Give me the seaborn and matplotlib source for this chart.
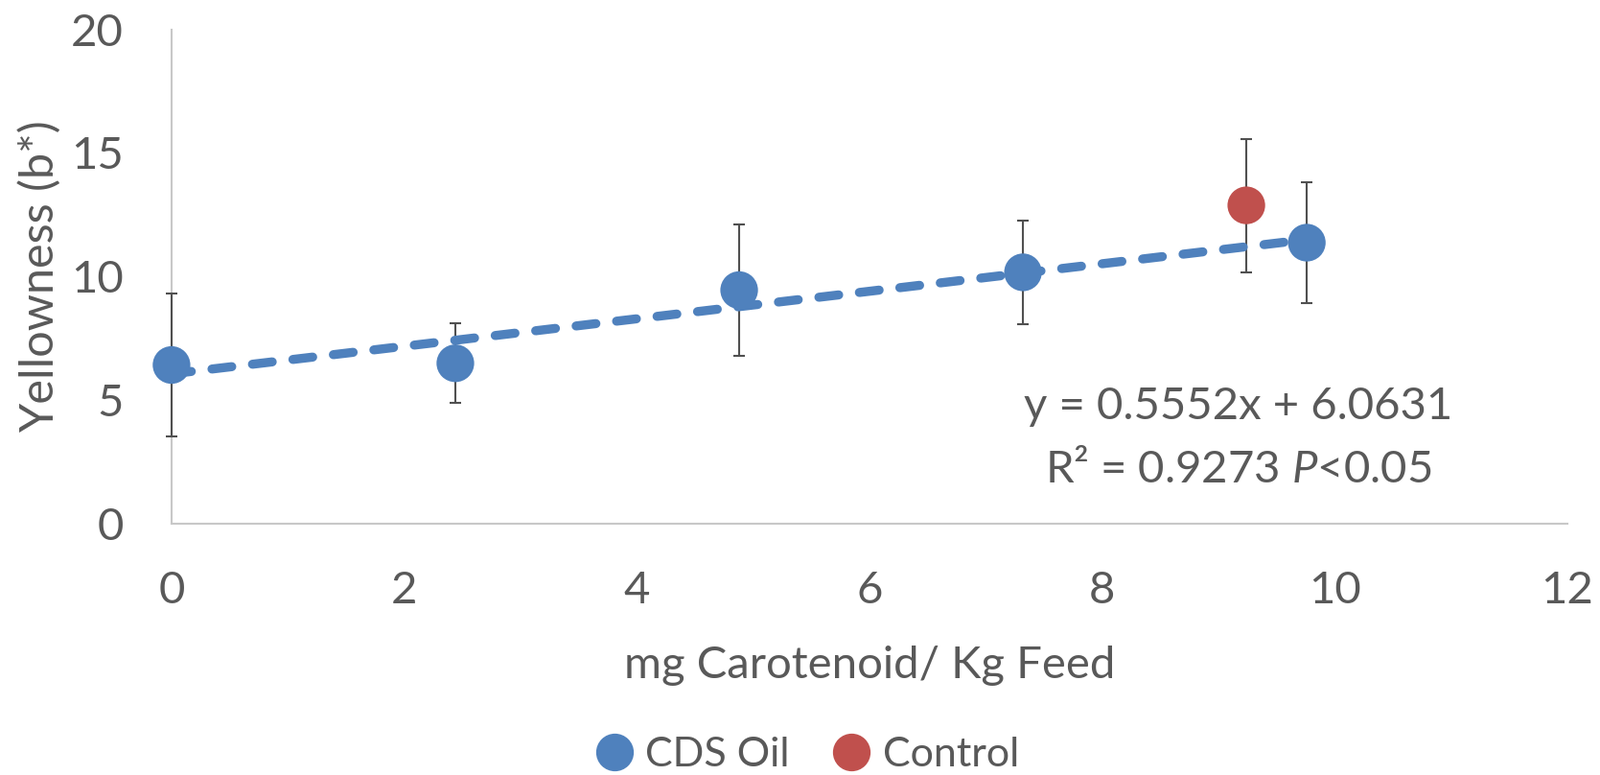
import matplotlib
matplotlib.use("Agg")
import matplotlib.pyplot as plt
import seaborn as sns
import pandas as pd
import numpy as np

# Data
cds_x = [0.0, 2.44, 4.88, 7.32, 9.76]
cds_y = [6.42, 6.49, 9.45, 10.17, 11.37]
cds_err = [2.90, 1.61, 2.65, 2.09, 2.45]
ctrl_x = [9.24]
ctrl_y = [12.88]
ctrl_err = [2.70]
x_ticks = [0, 2, 4, 6, 8, 10, 12]
y_ticks = [0, 5, 10, 15, 20]
eq_line1 = "y = 0.5552x + 6.0631"
eq_line2 = r"R² = 0.9273 $\it{P}$<0.05"

BLUE = "#4F81BD"
RED = "#C0504D"
TXT = "#595959"

sns.set_theme(style="white")
plt.rcParams['font.family'] = ['Lato', 'DejaVu Sans']
plt.rcParams['mathtext.fontset'] = 'custom'
plt.rcParams['mathtext.rm'] = 'Lato'
plt.rcParams['mathtext.it'] = 'Lato:italic'

df = pd.DataFrame({
    "x": cds_x + ctrl_x,
    "y": cds_y + ctrl_y,
    "err": cds_err + ctrl_err,
    "group": ["CDS Oil"] * len(cds_x) + ["Control"] * len(ctrl_x),
})

fig = plt.figure(figsize=(16.69, 8.08), dpi=100)
ax = fig.add_axes([0.1072, 0.3243, 0.8724, 0.6378])

for s in ["top", "right"]:
    ax.spines[s].set_visible(False)
for s in ["left", "bottom"]:
    ax.spines[s].set_color("#C8C8C8")
    ax.spines[s].set_linewidth(1.5)
    ax.spines[s].set_zorder(0.5)

# error bars (behind markers)
eb = ax.errorbar(df["x"], df["y"], yerr=df["err"], fmt="none", ecolor="#505050",
                 elinewidth=1.5, capsize=4.5, capthick=1.5, zorder=2)
for art in eb.lines[1] + eb.lines[2]:
    art.set_clip_on(False)

sns.scatterplot(data=df, x="x", y="y", hue="group",
                palette={"CDS Oil": BLUE, "Control": RED},
                s=800, linewidth=0, ax=ax, zorder=3, legend=True,
                clip_on=False)

# trendline on top
cds_df = df[df["group"] == "CDS Oil"]
sns.regplot(data=cds_df, x="x", y="y", scatter=False, ci=None, truncate=True,
            ax=ax, color=BLUE,
            line_kws=dict(lw=6.8, dashes=(2.2, 2.3), dash_capstyle="round",
                          zorder=4))

ax.set_xlim(0, 12)
ax.set_ylim(0, 20)
ax.set_xticks(x_ticks)
ax.set_yticks(y_ticks)
ax.tick_params(axis="both", length=0, labelsize=34, colors=TXT)
ax.tick_params(axis="y", pad=36)
ax.tick_params(axis="x", pad=35)

ax.set_xlabel("mg Carotenoid/ Kg Feed", fontsize=34, color=TXT, labelpad=26)
ax.set_ylabel("Yellowness (b*)", fontsize=35, color=TXT)
ax.yaxis.set_label_coords(-0.079, 0.5)

ax.text(9.17, 4.75, eq_line1, fontsize=34, color=TXT, ha="center", va="center")
ax.text(9.17, 2.2, eq_line2, fontsize=34, color=TXT, ha="center", va="center")

handles, labels = ax.get_legend_handles_labels()
ax.get_legend().remove()
fig.legend(handles, labels, loc="center", bbox_to_anchor=(0.504, 0.026),
           ncol=2, frameon=False, fontsize=31, labelcolor=TXT,
           markerscale=1.0, handlelength=1.0, handletextpad=0.25,
           columnspacing=1.0)

fig.savefig("out.png", dpi=100)
